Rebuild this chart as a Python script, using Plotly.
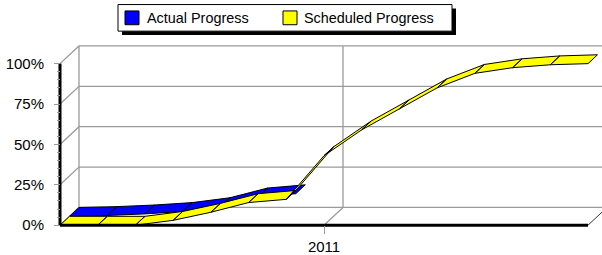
import plotly.graph_objects as go

# ---------------- data ----------------
months = ['2010-06', '2010-07', '2010-08', '2010-09', '2010-10', '2010-11', '2010-12',
          '2011-01', '2011-02', '2011-03', '2011-04', '2011-05', '2011-06', '2011-07', '2011-08']
actual_progress = [0, 0.5, 1.5, 3, 6, 12, 14]
scheduled_progress = [0, 0, 0, 3, 8, 14, 16, 43, 59, 72, 85, 94, 97.5, 99.3, 100]
y_tick_values = [0, 25, 50, 75, 100]
y_tick_labels = ['0%', '25%', '50%', '75%', '100%']
x_tick_month = '2011-01'
x_tick_label = '2011'
series_names = ['Actual Progress', 'Scheduled Progress']
series_colors = ['#0000ff', '#ffff00']

# ---------------- geometry (pixels) ----------------
W, H = 602, 255
PL, PR, PT, PB = 50, 602, 40, 240          # plot area box in pixels
X0_PX, XEND_PX = 60, 588                    # front x-axis start / end
Y0_PX, Y100_PX = 228, 64                    # front 0% / 100%
DEPTH_PX = (19, 18)                          # total 3-D depth offset (right, up)

n = len(months)
xi = list(range(n))
px_per_x = (XEND_PX - X0_PX) / (n - 1)
px_per_y = (Y0_PX - Y100_PX) / 100.0
x_range = [(PL - X0_PX) / px_per_x, (PR - X0_PX) / px_per_x]
y_range = [(Y0_PX - PB) / px_per_y, (Y0_PX - PT) / px_per_y]
DX = DEPTH_PX[0] / px_per_x
DY = DEPTH_PX[1] / px_per_y

GRID = '#9a9a9a'
FONT = 'Arial, Liberation Sans, sans-serif'

fig = go.Figure()

# ---- walls / gridlines ----
gx, gy = [], []
x_last = xi[-1]
for v in y_tick_values:
    gx += [0, DX, x_last + DX, None]
    gy += [v, v + DY, v + DY, None]
gx += [DX, DX, None]
gy += [DY, 100 + DY, None]
t = months.index(x_tick_month)
gx += [t, t + DX, t + DX, None]
gy += [0, DY, 100 + DY, None]
fig.add_trace(go.Scatter(x=gx, y=gy, mode='lines', line=dict(color=GRID, width=1.3),
                         hoverinfo='skip', showlegend=False))
# right floor edge
fig.add_trace(go.Scatter(x=[x_last, x_last + DX], y=[0, DY], mode='lines',
                         line=dict(color='#333333', width=1), hoverinfo='skip', showlegend=False))


# ---- ribbons ----
def ribbon(values, slot, nslots, color, name):
    o0x, o0y = DX * slot / nslots, DY * slot / nslots
    o1x, o1y = DX * (slot + 1) / nslots, DY * (slot + 1) / nslots
    xs, ys = [], []
    for i in range(len(values) - 1):
        a, b = xi[i], xi[i + 1]
        va, vb = values[i], values[i + 1]
        xs += [a + o0x, b + o0x, b + o1x, a + o1x, a + o0x, None]
        ys += [va + o0y, vb + o0y, vb + o1y, va + o1y, va + o0y, None]
    fig.add_trace(go.Scatter(x=xs, y=ys, mode='lines', fill='toself', fillcolor=color,
                             line=dict(color='black', width=1), hoverinfo='skip',
                             showlegend=False, name=name))


ribbon(actual_progress, 1, 2, series_colors[0], series_names[0])
ribbon(scheduled_progress, 0, 2, series_colors[1], series_names[1])

# ---- front axis lines ----
fig.add_trace(go.Scatter(x=[0, 0, None, 0, x_last], y=[100, 0, None, 0, 0], mode='lines',
                         line=dict(color='black', width=3), hoverinfo='skip', showlegend=False))


def pxx(p):
    return (p - PL) / (PR - PL)


def pxy(p):
    return (PB - p) / (PB - PT)


# ---- legend box (drawn) ----
LX0, LX1, LY0, LY1 = 118, 452, 4, 31
SH = 4
fig.add_shape(type='rect', xref='paper', yref='paper', x0=pxx(LX0 + SH), x1=pxx(LX1 + SH),
              y0=pxy(LY1 + SH), y1=pxy(LY0 + SH), fillcolor='black', line=dict(width=0))
fig.add_shape(type='rect', xref='paper', yref='paper', x0=pxx(LX0), x1=pxx(LX1),
              y0=pxy(LY1), y1=pxy(LY0), fillcolor='white', line=dict(color='black', width=1))
sym_left = [125, 283]
txt_left = [145, 302]
yc = (LY0 + LY1) / 2
for name, color, sx, tx in zip(series_names, series_colors, sym_left, txt_left):
    fig.add_shape(type='rect', xref='paper', yref='paper', x0=pxx(sx), x1=pxx(sx + 14),
                  y0=pxy(yc + 7), y1=pxy(yc - 7), fillcolor=color,
                  line=dict(color='black', width=1))
    fig.add_annotation(xref='paper', yref='paper', x=pxx(tx), y=pxy(yc + 0.5),
                       xanchor='left', yanchor='middle', text=name, showarrow=False,
                       font=dict(family=FONT, size=14.4, color='black'))

minor_vals = [v for v in range(5, 100, 5) if v % 25]

fig.update_layout(
    width=W, height=H,
    margin=dict(l=PL, r=W - PR, t=PT, b=H - PB, pad=0),
    paper_bgcolor='white', plot_bgcolor='white',
    font=dict(family=FONT, size=15, color='black'),
    showlegend=False,
    xaxis=dict(range=x_range, showgrid=False, zeroline=False, showline=False,
               anchor='free', position=pxy(Y0_PX),
               tickmode='array', tickvals=[t], ticktext=[x_tick_label],
               ticks='outside', ticklen=8, tickcolor=GRID, tickwidth=1,
               tickfont=dict(family=FONT, size=15, color='black')),
    yaxis=dict(range=y_range, showgrid=False, zeroline=False, showline=False,
               anchor='free', position=pxx(X0_PX),
               tickmode='array', tickvals=y_tick_values, ticktext=y_tick_labels,
               ticks='outside', ticklen=6, tickcolor=GRID, tickwidth=1,
               ticklabelstandoff=7,
               tickfont=dict(family=FONT, size=15, color='black'),
               minor=dict(tickmode='array', tickvals=minor_vals, ticks='outside',
                          ticklen=3, tickcolor=GRID, tickwidth=1)),
)

fig.write_html('out.html', config={'displayModeBar': False},
               post_script="document.body.style.margin='0px';")
